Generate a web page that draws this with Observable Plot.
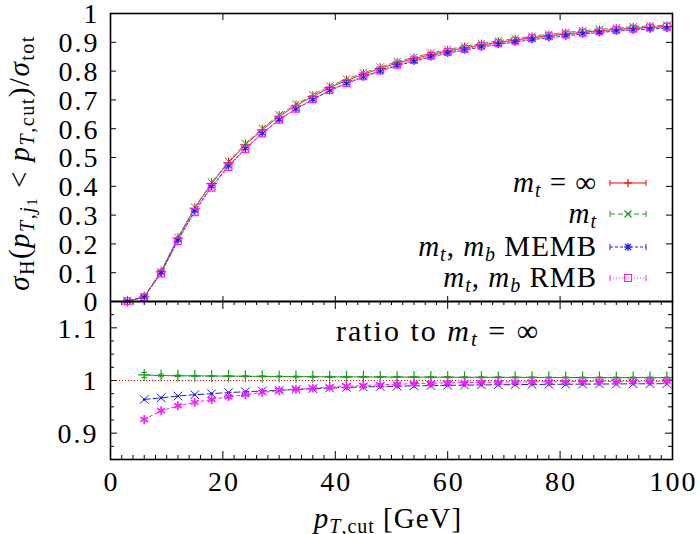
<!DOCTYPE html>
<html><head><meta charset="utf-8">
<script src="https://cdn.jsdelivr.net/npm/d3@7"></script>
<script src="https://cdn.jsdelivr.net/npm/@observablehq/plot@0.6"></script>
<style>
body{margin:0;background:#fff;}
#wrap{position:relative;width:700px;height:534px;font-family:"Liberation Serif",serif;}
#wrap svg{position:absolute;left:0;top:0;}
</style></head><body><div id="wrap"></div>
<script>
// ---- data ----
const pT = [3,6,9,12,15,18,21,24,27,30,33,36,39,42,45,48,51,54,57,60,63,66,69,72,75,78,81,84,87,90,93,96,99];
const mtInf = [0.001,0.016,0.103,0.220,0.324,0.410,0.482,0.544,0.596,0.643,0.680,0.712,0.743,0.767,0.789,0.809,0.828,0.843,0.857,0.870,0.881,0.891,0.900,0.908,0.916,0.923,0.929,0.935,0.940,0.945,0.949,0.952,0.955];
const mt = [0.001,0.016,0.104,0.222,0.327,0.413,0.486,0.548,0.601,0.648,0.685,0.717,0.748,0.772,0.794,0.814,0.833,0.848,0.862,0.875,0.886,0.896,0.905,0.913,0.921,0.928,0.934,0.940,0.945,0.950,0.954,0.957,0.960];
const memb = [0.001,0.0154,0.0996,0.2135,0.315,0.400,0.471,0.532,0.584,0.631,0.668,0.701,0.732,0.757,0.779,0.800,0.819,0.834,0.849,0.862,0.873,0.883,0.893,0.901,0.909,0.916,0.922,0.929,0.934,0.939,0.943,0.946,0.949];
const rmb = [0.001,0.0148,0.097,0.2094,0.3106,0.395,0.467,0.529,0.583,0.631,0.669,0.702,0.734,0.759,0.782,0.802,0.822,0.838,0.853,0.866,0.877,0.888,0.897,0.905,0.914,0.921,0.927,0.933,0.938,0.943,0.947,0.951,0.954];

const pTRatio = [6,9,12,15,18,21,24,27,30,33,36,39,42,45,48,51,54,57,60,63,66,69,72,75,78,81,84,87,90,93,96,99];
const ratioMt = [1.0105,1.0095,1.009,1.0088,1.0085,1.0083,1.008,1.0078,1.0076,1.0074,1.0072,1.007,1.0069,1.0068,1.0067,1.0066,1.0065,1.0064,1.0063,1.0062,1.0061,1.006,1.0059,1.0058,1.0057,1.0057,1.0056,1.0056,1.0055,1.0055,1.0055,1.0054];
const ratioMtErr = [0.005,0.0025,0.0015,0.001,0.001,0.001,0.001,0.001,0.001,0.001,0.001,0.001,0.001,0.001,0.001,0.001,0.001,0.001,0.001,0.001,0.001,0.001,0.001,0.001,0.001,0.001,0.001,0.001,0.001,0.001,0.001,0.001];
const ratioMemb = [0.964,0.967,0.9705,0.973,0.975,0.977,0.9787,0.980,0.9813,0.983,0.9845,0.9857,0.9868,0.9877,0.9885,0.9892,0.9898,0.9903,0.9908,0.9912,0.9916,0.9919,0.9922,0.9925,0.9927,0.9929,0.9931,0.9933,0.9935,0.9937,0.9938,0.994];
const ratioRmb = [0.926,0.9425,0.952,0.9585,0.964,0.969,0.973,0.9775,0.981,0.9835,0.9855,0.9875,0.989,0.9905,0.9918,0.993,0.994,0.9948,0.9955,0.996,0.9965,0.9969,0.9972,0.9975,0.9977,0.9979,0.998,0.9982,0.9983,0.9984,0.9985,0.9986];

const yTicksUpper = [0,0.1,0.2,0.3,0.4,0.5,0.6,0.7,0.8,0.9,1];
const yTickLabelsUpper = ["0","0.1","0.2","0.3","0.4","0.5","0.6","0.7","0.8","0.9","1"];
const yTicksLower = [0.9,1,1.1];
const yTickLabelsLower = ["0.9","1","1.1"];
const yMinorLower = [0.875,0.925,0.95,0.975,1.025,1.05,1.075,1.125];
const xTicks = [0,20,40,60,80,100];
const xTickLabels = ["0","20","40","60","80","100"];
const xMinor = [2,4,6,8,10,12,14,16,18,22,24,26,28,30,32,34,36,38,42,44,46,48,50,52,54,56,58,62,64,66,68,70,72,74,76,78,82,84,86,88,90,92,94,96,98];

const colors = {inf:"#ff0000", mt:"#209a20", memb:"#1a1aff", rmb:"#ff1aff"};

// ---- tables ----
const rows = (xs, ys, extra={}) => xs.map((x,i)=>({x, y: ys[i], ...Object.fromEntries(Object.entries(extra).map(([k,v])=>[k,v[i]]))}));
const upInf = rows(pT, mtInf), upMt = rows(pT, mt), upMemb = rows(pT, memb), upRmb = rows(pT, rmb);
const loMt = rows(pTRatio, ratioMt, {e: ratioMtErr}), loMemb = rows(pTRatio, ratioMemb), loRmb = rows(pTRatio, ratioRmb);

const W = 700, H = 534;
const FW = 562; // frame width
const inner = xTicks.slice(1,-1);
const style = {background:"transparent", fontFamily:"Liberation Serif, serif", fontSize:"28px", color:"#000", letterSpacing:"2px"};

const upper = Plot.plot({
  width: W, height: H, marginTop: 13, marginBottom: 233, marginLeft: 110, marginRight: 28,
  x: {domain:[0,100], axis:null}, y: {domain:[0,1], axis:null},
  style,
  marks: [
    Plot.tickY(yTicksUpper.slice(1,-1), {y: d=>d, insetRight: FW-6, stroke:"#000", strokeWidth:1}),
    Plot.tickY(yTicksUpper.slice(1,-1), {y: d=>d, insetLeft: FW-6, stroke:"#000", strokeWidth:1}),
    Plot.tickX(inner, {x: d=>d, insetBottom: 288-7, stroke:"#000", strokeWidth:1}),
    Plot.tickX(inner, {x: d=>d, insetTop: 288-5, stroke:"#000", strokeWidth:1}),
    Plot.text(yTicksUpper, {y: d=>d, text: (d,i)=>yTickLabelsUpper[i], frameAnchor:"left", textAnchor:"end", dx:-11, dy:1, fontSize:28}),
    Plot.line(upInf, {x:"x", y:"y", stroke:colors.inf, strokeWidth:0.9}),
    Plot.line(upMt, {x:"x", y:"y", stroke:colors.mt, strokeWidth:0.9, strokeDasharray:"5,3"}),
    Plot.line(upMemb, {x:"x", y:"y", stroke:colors.memb, strokeWidth:0.9, strokeDasharray:"3,2"}),
    Plot.line(upRmb, {x:"x", y:"y", stroke:colors.rmb, strokeWidth:0.9, strokeDasharray:"1,2"}),
    Plot.dot(upInf, {x:"x", y:"y", symbol:"plus", r:3.5, stroke:colors.inf, strokeWidth:1}),
    Plot.dot(upMt, {x:"x", y:"y", symbol:"times", r:3.5, stroke:colors.mt, strokeWidth:1}),
    Plot.dot(upMemb, {x:"x", y:"y", symbol:"asterisk", r:3.5, stroke:colors.memb, strokeWidth:1.2}),
    Plot.dot(upRmb, {x:"x", y:"y", symbol:"square", r:3.8, stroke:colors.rmb, fill:"none", strokeWidth:1.2}),
    Plot.frame({stroke:"#000", strokeWidth:1.6})
  ]
});

const lower = Plot.plot({
  width: W, height: H, marginTop: 301, marginBottom: 75, marginLeft: 110, marginRight: 28,
  x: {domain:[0,100], axis:null}, y: {domain:[0.85,1.15], axis:null},
  style,
  marks: [
    Plot.tickY(yTicksLower, {y: d=>d, insetRight: FW-7, stroke:"#000"}),
    Plot.tickY(yTicksLower, {y: d=>d, insetLeft: FW-7, stroke:"#000"}),
    Plot.tickY(yMinorLower, {y: d=>d, insetRight: FW-4, stroke:"#000"}),
    Plot.tickY(yMinorLower, {y: d=>d, insetLeft: FW-4, stroke:"#000"}),
    Plot.tickX(inner, {x: d=>d, insetTop: 158-8, stroke:"#000"}),
    Plot.tickX(inner, {x: d=>d, insetBottom: 158-8, stroke:"#000"}),
    Plot.tickX(xMinor, {x: d=>d, insetTop: 158-4, stroke:"#000"}),
    Plot.tickX(xMinor, {x: d=>d, insetBottom: 158-4, stroke:"#000"}),
    Plot.text(yTicksLower, {y: d=>d, text: (d,i)=>yTickLabelsLower[i], frameAnchor:"left", textAnchor:"end", dx:-12, dy:1, fontSize:28}),
    Plot.text(xTicks, {x: d=>d, text: (d,i)=>xTickLabels[i], frameAnchor:"bottom", lineAnchor:"top", dx:1, dy:12, fontSize:28}),
    Plot.ruleY([1], {stroke:colors.inf, strokeWidth:1, strokeDasharray:"1,2"}),
    Plot.line(loMt, {x:"x", y:"y", stroke:colors.mt, strokeWidth:1}),
    Plot.ruleX(loMt, {x:"x", y1: d=>d.y-d.e, y2: d=>d.y+d.e, stroke:colors.mt, strokeWidth:1}),
    Plot.link(loMt, {x1: d=>d.x-0.55, x2: d=>d.x+0.55, y1: d=>d.y+d.e, y2: d=>d.y+d.e, stroke:colors.mt, strokeWidth:1}),
    Plot.link(loMt, {x1: d=>d.x-0.55, x2: d=>d.x+0.55, y1: d=>d.y-d.e, y2: d=>d.y-d.e, stroke:colors.mt, strokeWidth:1}),
    Plot.line(loMemb, {x:"x", y:"y", stroke:colors.memb, strokeWidth:1, strokeDasharray:"6,3"}),
    Plot.line(loRmb, {x:"x", y:"y", stroke:colors.rmb, strokeWidth:1, strokeDasharray:"3,3"}),
    Plot.dot(loMt, {x:"x", y:"y", symbol:"plus", r:4, stroke:colors.mt, strokeWidth:1.2}),
    Plot.dot(loMemb, {x:"x", y:"y", symbol:"times", r:4, stroke:colors.memb, strokeWidth:1}),
    Plot.dot(loMemb, {x:"x", y:"y", r:1.3, fill:colors.memb}),
    Plot.dot(loRmb, {x:"x", y:"y", symbol:"asterisk", r:4.2, stroke:colors.rmb, strokeWidth:1.6}),
    Plot.frame({stroke:"#000", strokeWidth:1.6})
  ]
});

const wrap = document.getElementById("wrap");
wrap.appendChild(upper);
wrap.appendChild(lower);

// ---- labels and legend ----
const seriesLabels = [
  '<tspan font-style="italic">m</tspan><tspan font-style="italic" font-size="20" dy="5">t</tspan><tspan dy="-5"> = ∞</tspan>',
  '<tspan font-style="italic">m</tspan><tspan font-style="italic" font-size="20" dy="5">t</tspan><tspan dy="-5"></tspan>',
  '<tspan font-style="italic">m</tspan><tspan font-style="italic" font-size="20" dy="5">t</tspan><tspan dy="-5">, </tspan><tspan font-style="italic">m</tspan><tspan font-style="italic" font-size="20" dy="5">b</tspan><tspan dy="-5"> MEMB</tspan>',
  '<tspan font-style="italic">m</tspan><tspan font-style="italic" font-size="20" dy="5">t</tspan><tspan dy="-5">, </tspan><tspan font-style="italic">m</tspan><tspan font-style="italic" font-size="20" dy="5">b</tspan><tspan dy="-5"> RMB</tspan>'
];
const legendKeys = ["inf","mt","memb","rmb"];
const legendDash = ["none","5,3","3,2","1,2"];
const legendSym = [
  "M-4,0H4M0,-4V4",
  "M-3.5,-3.5L3.5,3.5M-3.5,3.5L3.5,-3.5",
  "M-4,0H4M0,-4V4M-3,-3L3,3M-3,3L3,-3",
  "M-3.5,-3.5H3.5V3.5H-3.5Z"
];
const rowY = [183,214,247,278];
let legend = "";
legendKeys.forEach((k,i)=>{
  const y = rowY[i], c = colors[k];
  legend += `<text x="597" y="${y+9}" text-anchor="end" font-size="29" letter-spacing="1">${seriesLabels[i]}</text>`;
  legend += `<line x1="610" x2="646" y1="${y}" y2="${y}" stroke="${c}" stroke-width="1" stroke-dasharray="${legendDash[i]}"/>`;
  legend += `<line x1="610" x2="610" y1="${y-3}" y2="${y+3}" stroke="${c}" stroke-width="1"/>`;
  legend += `<line x1="646" x2="646" y1="${y-3}" y2="${y+3}" stroke="${c}" stroke-width="1"/>`;
  legend += `<path transform="translate(628,${y})" d="${legendSym[i]}" fill="${k==='memb'?c:'none'}" stroke="${c}" stroke-width="1.2"/>`;
});

const overlay = `<svg width="700" height="534" xmlns="http://www.w3.org/2000/svg" font-family="Liberation Serif, serif" fill="#000">
<text transform="translate(29,163) rotate(-90)" text-anchor="middle" font-size="29" letter-spacing="1.5"><tspan font-style="italic">σ</tspan><tspan font-size="20" dy="5">H</tspan><tspan dy="-5">(</tspan><tspan font-style="italic">p</tspan><tspan font-size="20" dy="5"><tspan font-style="italic">T</tspan>,<tspan font-style="italic">j</tspan></tspan><tspan font-size="15" dy="3">1</tspan><tspan dy="-8"> &lt; </tspan><tspan font-style="italic">p</tspan><tspan font-size="20" dy="5"><tspan font-style="italic">T</tspan>,cut</tspan><tspan dy="-5">)/</tspan><tspan font-style="italic">σ</tspan><tspan font-size="20" dy="5">tot</tspan></text>
<text x="388" y="528" text-anchor="middle" font-size="29" letter-spacing="1"><tspan font-style="italic">p</tspan><tspan font-size="20" dy="5"><tspan font-style="italic">T</tspan>,cut</tspan><tspan dy="-5">  [GeV]</tspan></text>
<text x="438" y="341" text-anchor="middle" font-size="30" letter-spacing="2">ratio to <tspan font-style="italic">m</tspan><tspan font-style="italic" font-size="21" dy="5">t</tspan><tspan dy="-5"> = ∞</tspan></text>
${legend}
</svg>`;
const holder = document.createElement("div");
holder.innerHTML = overlay;
wrap.appendChild(holder.firstElementChild);
</script></body></html>
